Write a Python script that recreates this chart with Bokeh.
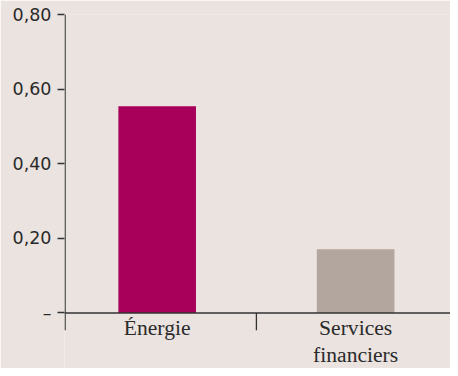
from bokeh.plotting import figure
from bokeh.models import FixedTicker, Span, Range1d
from bokeh.core.properties import value
from bokeh.embed import file_html
from bokeh.resources import INLINE

categories = ["Énergie", "Services\nfinanciers"]
values = [0.554, 0.171]
colors = ["#A8005A", "#B3A69E"]
y_ticks = [0.0, 0.2, 0.4, 0.6, 0.8]
y_tick_labels = ["–", "0,20", "0,40", "0,60", "0,80"]

BG = "#EAE3E0"
INK = "#2a2a2a"
AX = "#333333"

x_pos = [0.5 + i for i in range(len(categories))]
x0, x1 = 0.033, 1.978
y_axis_bottom = -0.0464
y0, y1 = -0.1488, 0.80

p = figure(width=450, height=368, output_backend="svg", toolbar_location=None,
           x_range=Range1d(x0, x1), y_range=Range1d(y0, y1), x_axis_location=None,
           min_border_left=64, min_border_right=0, min_border_top=14, min_border_bottom=0)
p.background_fill_color = BG
p.border_fill_color = BG
p.outline_line_color = None
p.grid.visible = False

p.vbar(x=x_pos, top=values, width=0.391, color=colors, line_color=None)

# y axis (ticks + labels); its line is drawn explicitly so it stops just below zero
p.yaxis.ticker = FixedTicker(ticks=y_ticks)
p.yaxis.major_label_overrides = dict(zip(y_ticks, y_tick_labels))
p.yaxis.major_label_text_font = "DejaVu Sans"
p.yaxis.major_label_text_font_size = "17.5px"
p.yaxis.major_label_text_color = INK
p.yaxis.major_tick_out = 7
p.yaxis.major_tick_in = 0
p.yaxis.minor_tick_line_color = None
p.yaxis.major_label_standoff = 6
p.yaxis.axis_line_color = None
p.yaxis.major_tick_line_color = AX
p.yaxis.major_tick_line_width = 1.3

p.segment(x0=[x0 + 0.6 / 198.5], y0=[y_axis_bottom], x1=[x0 + 0.6 / 198.5], y1=[y1],
          line_color=AX, line_width=1.3)

# baseline and separator tick
p.add_layout(Span(location=0, dimension="width", line_color=AX, line_width=1.3))
p.segment(x0=[1.0], y0=[0.0], x1=[1.0], y1=[y_axis_bottom], line_color=AX, line_width=1.3)

# category labels
p.text(x=x_pos, y=[-0.009] * len(x_pos), text=categories,
       text_font=value("Liberation Serif"), text_font_size="21.6px", text_color=INK,
       text_align="center", text_baseline="top", text_line_height=1.1)

open("out.html", "w").write(file_html(p, INLINE))
